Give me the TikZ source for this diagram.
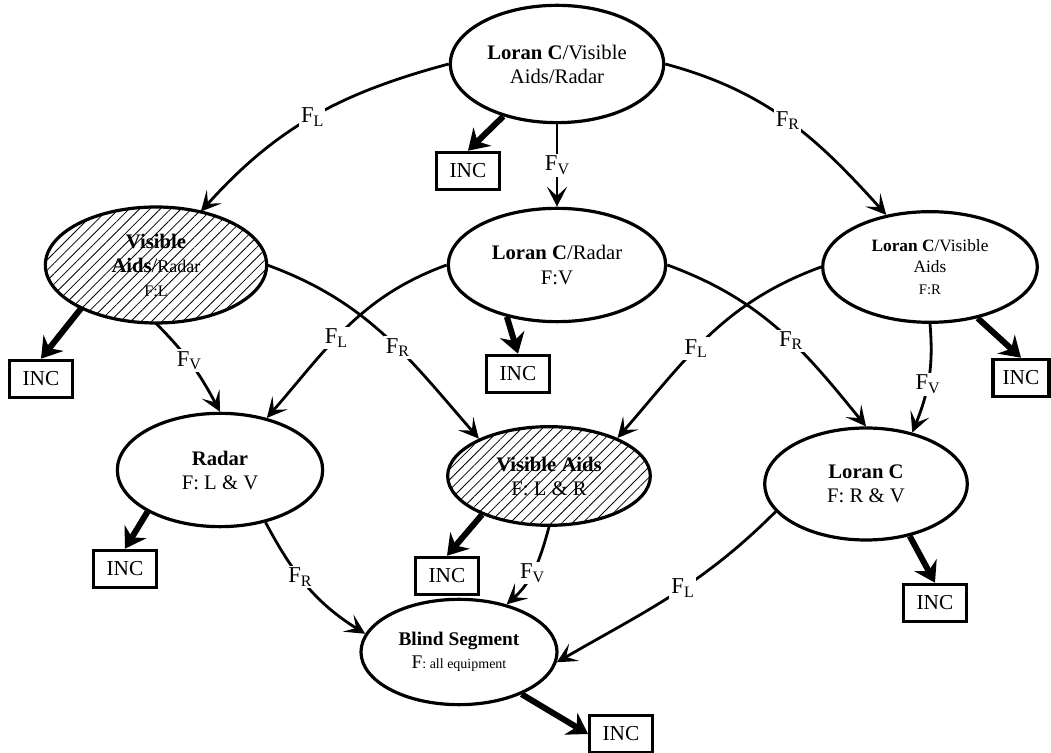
\documentclass[tikz,border=0pt]{standalone}
\usepackage{fontspec}
\setmainfont{Liberation Serif}
\usetikzlibrary{arrows.meta,patterns.meta,shapes.geometric}
\newcommand{\fsub}[1]{F\raisebox{-0.35ex}{\fontsize{12}{12}\selectfont #1}}

\begin{document}
\begin{tikzpicture}[x=0.75pt, y=0.75pt,
    state/.style={draw, ellipse, line width=2.4pt, inner sep=0pt, align=center, font=\fontsize{15.5}{18}\selectfont},
    hatched/.style={pattern={Lines[angle=45, distance=5.5pt, line width=0.6pt]}},
    inc/.style={draw, line width=2.4pt, minimum width=47pt, minimum height=28pt, inner sep=2pt, font=\fontsize{16}{18}\selectfont},
    arr/.style={line width=2.1pt, -{Stealth[length=15pt, width=15pt, inset=7pt]}},
    fail/.style={line width=4.5pt, -{Stealth[length=15pt, width=19pt, inset=5pt]}},
    lab/.style={fill=white, inner sep=1.5pt, font=\fontsize{17}{19}\selectfont}]
  \useasboundingbox (0,0) rectangle (1051,753);

  \node[state, minimum width=160pt, minimum height=88pt] (T) at (557,689) {\textbf{Loran C}/Visible\\Aids/Radar};
  \node[state, hatched, minimum width=166pt, minimum height=87pt] (VAR) at (156,488) {\textbf{Visible}\\\textbf{Aids}/{\fontsize{13.5}{15}\selectfont Radar}\\{\fontsize{12}{14}\selectfont F:L}};
  \node[state, minimum width=163pt, minimum height=85pt, font=\fontsize{15.5}{19}\selectfont] (LR) at (557,488) {\textbf{Loran C}/Radar\\F:V};
  \node[state, minimum width=161pt, minimum height=83pt, font=\fontsize{13}{16}\selectfont] (LV) at (930,486) {\textbf{Loran C}/Visible\\Aids\\{\fontsize{11}{13}\selectfont F:R}};
  \node[state, minimum width=154pt, minimum height=85pt] (R) at (220,283) {\textbf{Radar}\\F: L \& V};
  \node[state, hatched, minimum width=152pt, minimum height=74pt] (VA) at (549,277) {\textbf{Visible Aids}\\F: L \& R};
  \node[state, minimum width=152pt, minimum height=84pt] (LC) at (866,269) {\textbf{Loran C}\\F: R \& V};
  \node[state, minimum width=147pt, minimum height=79pt, font=\fontsize{14.5}{17}\selectfont] (BS) at (459,101) {\textbf{Blind Segment}\\F{\fontsize{10.5}{12}\selectfont: all equipment}};

  \node[inc] (I1) at (468,582) {INC};
  \node[inc] (I2) at (41,374) {INC};
  \node[inc] (I3) at (518,379) {INC};
  \node[inc, minimum width=42pt] (I4) at (1021,375) {INC};
  \node[inc] (I5) at (125,184) {INC};
  \node[inc] (I6) at (447,177) {INC};
  \node[inc] (I7) at (935,150) {INC};
  \node[inc] (I8) at (621,19) {INC};

  \draw[arr] (T.west) to[out=195, in=48] node[lab, pos=0.5] {\fsub{L}} (VAR.50);
  \draw[arr] (T) -- node[lab] {\fsub{V}} (LR);
  \draw[arr] (T.east) to[out=-15, in=132] node[lab, pos=0.5] {\fsub{R}} (LV.130);
  \draw[fail] (T) -- (I1.north);

  \draw[fail] (VAR.210) -- (I2.north);
  \draw[arr] (VAR.south) to[out=-45, in=118] node[lab, pos=0.45] {\fsub{V}} (R.north);
  \draw[arr] (VAR.east) to[out=-20, in=131] node[lab, pos=0.57] {\fsub{R}} (VA.152);

  \draw[arr] (LR.west) to[out=200, in=49] node[lab, pos=0.57] {\fsub{L}} (R.48);
  \draw[fail] (LR.226) -- (I3.north);
  \draw[arr] (LR.east) to[out=-20, in=129] node[lab, pos=0.57] {\fsub{R}} (LC.north);

  \draw[arr] (LV.west) to[out=200, in=49] node[lab, pos=0.57] {\fsub{L}} (VA.29);
  \draw[fail] (LV.-47) -- (I4.north);
  \draw[arr] (LV.south) to[out=-85, in=68] node[lab, pos=0.55] {\fsub{V}} (LC.48);

  \draw[fail] (R.210) -- (I5.north);
  \draw[arr] (R.-49) to[out=-62, in=148] node[lab, pos=0.42] {\fsub{R}} (BS.169);
  \draw[fail] (VA.210) -- (I6.north);
  \draw[arr] (VA.south) to[out=-105, in=42] node[lab, pos=0.55] {\fsub{V}} (BS.45);
  \draw[fail] (LC.-50) -- (I7.north);
  \draw[arr] (LC.197) to[out=225, in=30] node[lab, pos=0.45] {\fsub{L}} (BS.-6);
  \draw[fail] (BS.-34) -- (I8.west);
\end{tikzpicture}
\end{document}
